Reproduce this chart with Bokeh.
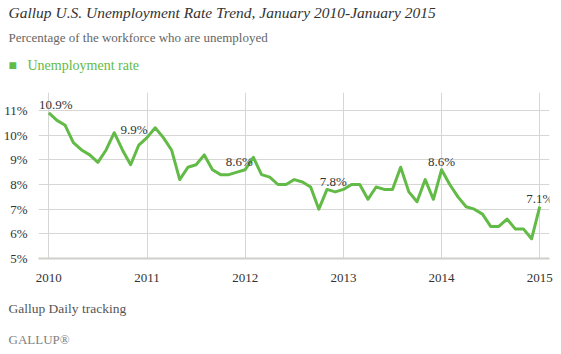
from bokeh.plotting import figure
from bokeh.models import ColumnDataSource, Label, Title, FixedTicker, Range1d
from bokeh.embed import file_html
from bokeh.resources import INLINE

# ---- data ----
years = ["2010", "2011", "2012", "2013", "2014", "2015"]
rate_2010 = [10.9, 10.6, 10.4, 9.7, 9.4, 9.2, 8.9, 9.4, 10.1, 9.4, 8.8, 9.6]
rate_2011 = [9.9, 10.3, 9.9, 9.4, 8.2, 8.7, 8.8, 9.2, 8.6, 8.4, 8.4, 8.5]
rate_2012 = [8.6, 9.1, 8.4, 8.3, 8.0, 8.0, 8.2, 8.1, 7.9, 7.0, 7.8, 7.7]
rate_2013 = [7.8, 8.0, 8.0, 7.4, 7.9, 7.8, 7.8, 8.7, 7.7, 7.3, 8.2, 7.4]
rate_2014 = [8.6, 8.0, 7.5, 7.1, 7.0, 6.8, 6.3, 6.3, 6.6, 6.2, 6.2, 5.8]
rate_2015 = [7.1]
y_ticks = [5, 6, 7, 8, 9, 10, 11]
labelled_months = [0, 12, 24, 36, 48, 60]  # January of each year

rates = rate_2010 + rate_2011 + rate_2012 + rate_2013 + rate_2014 + rate_2015
months = list(range(len(rates)))

GREEN = "#62bb46"
FONT = "serif"
W, H = 561, 354
FL, FR, FT, FB = 38, 549, 92, 258  # frame edges in canvas px

p = figure(width=W, height=H, output_backend="svg", toolbar_location=None,
           x_range=Range1d(-1.26, 61.19), y_range=Range1d(5, 11.73),
           min_border_left=FL, min_border_right=W - FR,
           min_border_top=FT, min_border_bottom=H - FB)
p.outline_line_color = None
p.background_fill_color = "white"

src = ColumnDataSource(dict(x=months, y=rates))
p.line("x", "y", source=src, line_color=GREEN, line_width=3, line_join="round")

# axes
p.xaxis.ticker = FixedTicker(ticks=labelled_months)
p.xaxis.major_label_overrides = {m: y for m, y in zip(labelled_months, years)}
p.yaxis.ticker = FixedTicker(ticks=y_ticks)
p.yaxis.major_label_overrides = {t: f"{t}%" for t in y_ticks}
p.axis.major_tick_line_color = None
p.axis.minor_tick_line_color = None
p.axis.major_label_text_font = FONT
p.axis.major_label_text_font_size = "13px"
p.axis.major_label_text_color = "#333333"
p.yaxis.axis_line_color = None
p.yaxis.major_label_standoff = 5
p.xaxis.axis_line_color = "#cfcfca"
p.xaxis.axis_line_width = 2
p.xaxis.major_label_standoff = 9
p.xgrid.grid_line_color = "#d6d6d6"
p.ygrid.grid_line_color = "#d6d6d6"

# point labels
lab_idx = [0, 12, 24, 36, 48, 60]
lab_dx = [7, -13, -6, -10, 0, 0]
for i, dx in zip(lab_idx, lab_dx):
    p.add_layout(Label(x=months[i], y=rates[i], text=f"{rates[i]}%",
                       x_offset=dx, y_offset=8, text_align="center",
                       text_baseline="alphabetic", text_font=FONT,
                       text_font_size="13px", text_color="#333333"))

def add_title(txt, place, size, color, style="normal", standoff=0):
    p.add_layout(Title(text=txt, align="left", offset=8 - FL, standoff=standoff,
                       text_font=FONT, text_font_size=size, text_color=color,
                       text_font_style=style), place)

# header rows, stacked from the frame upwards
add_title(" ", "above", "11px", "#ffffff")
add_title("\u25a0\u00a0\u00a0\u00a0Unemployment rate", "above", "14px", GREEN, standoff=11)
add_title("Percentage of the workforce who are unemployed", "above", "13px", "#666666", standoff=12)
add_title("Gallup U.S. Unemployment Rate Trend, January 2010-January 2015", "above", "15.5px", "#333333", "italic", standoff=1)
# footer rows, stacked from the frame downwards
add_title("Gallup Daily tracking", "below", "13.5px", "#555555", standoff=28)
add_title("GALLUP\u00ae", "below", "13px", "#808080", standoff=0)

open("out.html", "w").write(file_html(p, INLINE))
